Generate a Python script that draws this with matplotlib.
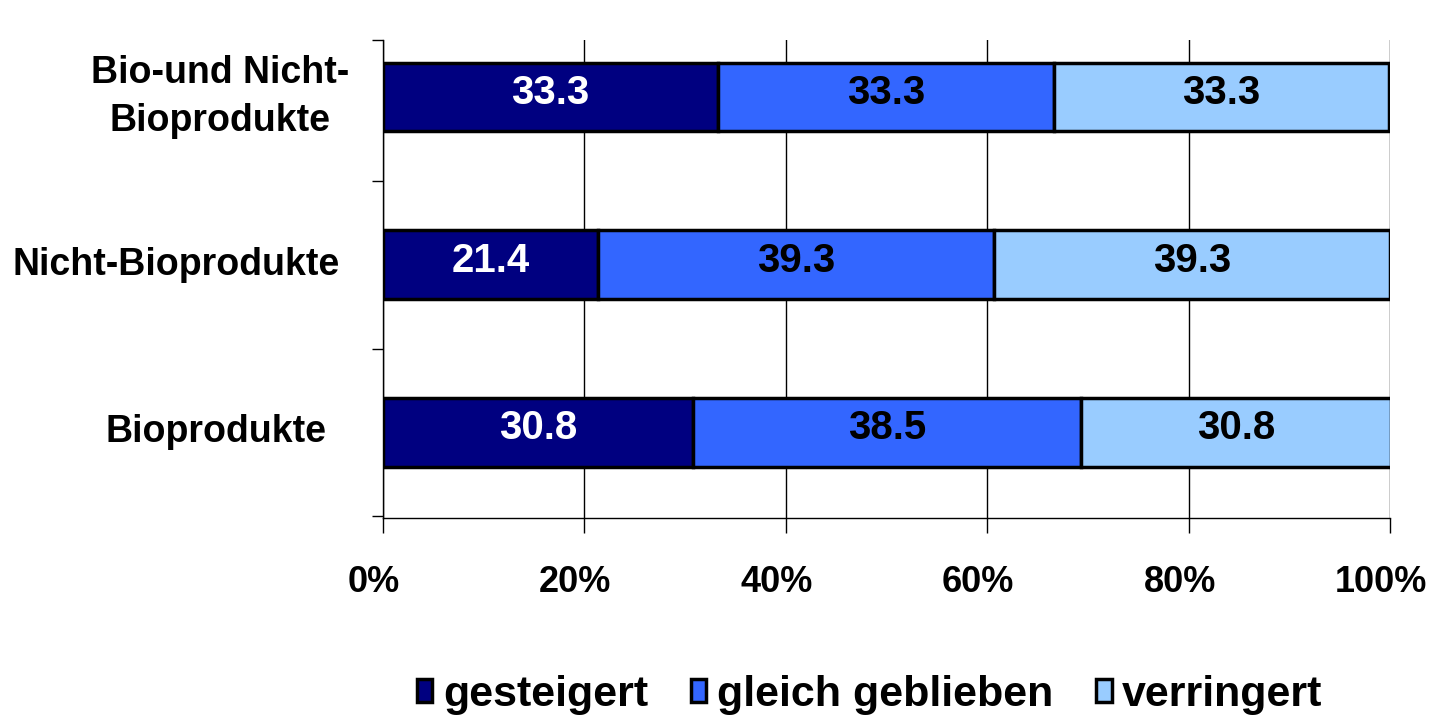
import matplotlib.pyplot as plt
import matplotlib.transforms as mtransforms
import numpy as np

plt.rcParams['font.family'] = ['Liberation Sans', 'DejaVu Sans']
plt.rcParams['font.weight'] = 'bold'

# Daten (von unten nach oben)
kategorien = ["Bioprodukte", "Nicht-Bioprodukte", "Bio-und Nicht-\nBioprodukte"]
gesteigert = [30.8, 21.4, 33.3]
gleich = [38.5, 39.3, 33.3]
verringert = [30.8, 39.3, 33.3]
serien = ["gesteigert", "gleich geblieben", "verringert"]
farben = ["#000080", "#3366FF", "#99CCFF"]
textfarben = ["white", "black", "black"]
xticks = [0, 20, 40, 60, 80, 100]

fig = plt.figure(figsize=(14.29, 7.21), dpi=100)
ax = fig.add_axes([0.268, 0.2816, 0.7047, 0.6629])

y = np.arange(len(kategorien))
links = np.zeros(len(kategorien))
for werte, name, farbe, tf in zip([gesteigert, gleich, verringert], serien, farben, textfarben):
    bars = ax.barh(y, werte, left=links, height=0.41, color=farbe,
                   edgecolor="black", linewidth=2.5, label=name, zorder=3)
    for b, w in zip(bars, werte):
        ax.text(b.get_x() + b.get_width() / 2, b.get_y() + b.get_height() / 2 + 0.025,
                f"{w:.1f}", ha="center", va="center", color=tf,
                fontsize=29, fontweight="bold", zorder=4)
    links += np.array(werte)

ax.set_xlim(0, 100)
ax.set_ylim(-0.51, 2.34)
ax.set_xticks(xticks)
ax.tick_params(axis="x", length=11, width=1, direction="out", labelbottom=False)
ax.xaxis.grid(True, color="black", linewidth=1, zorder=0)

# x-Beschriftung etwas nach links versetzt
xtrans = mtransforms.blended_transform_factory(ax.transData, ax.transAxes)
verschub = mtransforms.ScaledTranslation(-9 / 100, -65 / 100, fig.dpi_scale_trans)
for t in xticks:
    ax.text(t, 0, f"{t}%", transform=xtrans + verschub, ha="center", va="center",
            fontsize=26, fontweight="bold", clip_on=False)

# Kategorienbeschriftung links
ax.set_yticks([])
ax.set_yticks([-0.5, 0.5, 1.5, 2.34], minor=True)
lab_x = [-0.166, -0.2056, -0.162]
lab_dy = [0.0, 0.0, 0.0]
trans = mtransforms.blended_transform_factory(ax.transAxes, ax.transData)
for yi, txt, lx, dy in zip(y, kategorien, lab_x, lab_dy):
    ax.text(lx, yi + dy, txt, transform=trans, ha="center", va="center",
            fontsize=27, fontweight="bold", linespacing=1.45)

ax.tick_params(axis="y", which="minor", length=8, width=1, direction="out")

for s in ["top", "right"]:
    ax.spines[s].set_visible(False)
ax.spines["left"].set_linewidth(1)
ax.spines["bottom"].set_linewidth(1)

fig.legend(loc="center", bbox_to_anchor=(870 / 1429, 0.036), ncol=3, frameon=False,
           fontsize=31, handlelength=0.35, handleheight=0.45, handletextpad=0.25,
           columnspacing=1.0)

fig.savefig("out.png", dpi=100)
